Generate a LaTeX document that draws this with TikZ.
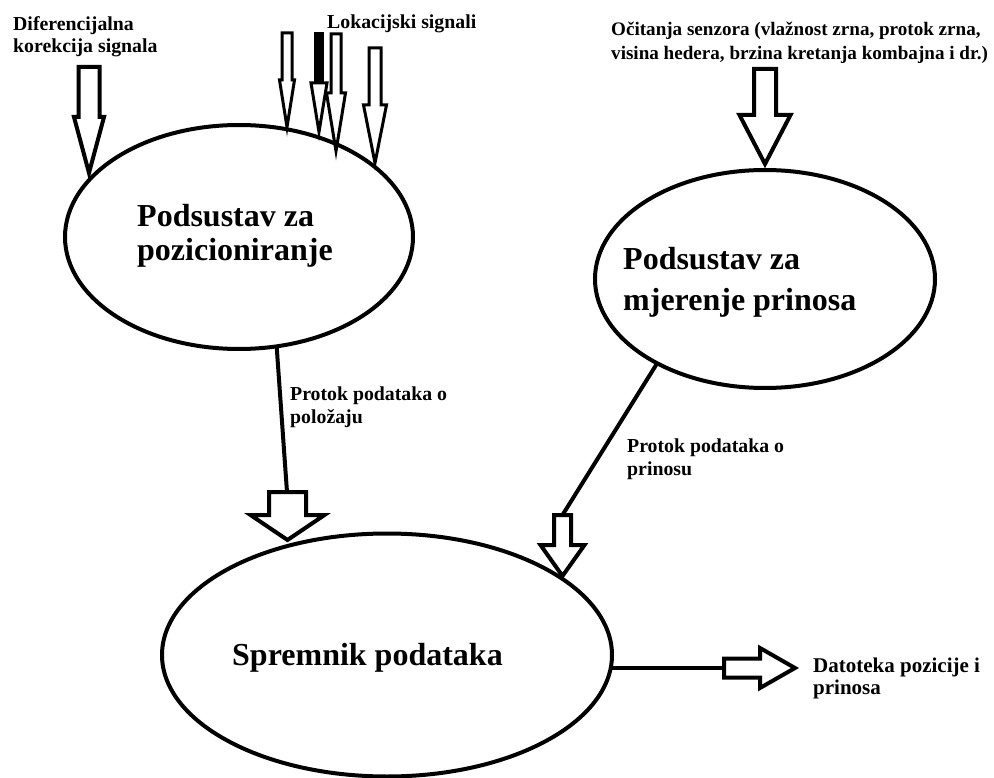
\documentclass[tikz,border=0pt]{standalone}
\usepackage{fontspec}
\setmainfont{Liberation Serif}
\usetikzlibrary{shapes.geometric}
\newcommand\twol[3]{\vtop{\baselineskip=#3pt\lineskiplimit=-50pt\hbox{#1}\hbox{#2}}}
% vertical block arrow: name, cx, ytop, yhead, ytip, shaft half width, head half width, style
\newcommand\vblk[8]{%
  \draw[#8] (#2-#6,#3) -- (#2+#6,#3) -- (#2+#6,#4) -- (#2+#7,#4) -- (#2,#5)
    -- (#2-#7,#4) -- (#2-#6,#4) -- cycle;
  \coordinate (#1t) at (#2,#3); \coordinate (#1h) at (#2,#5);}
\begin{document}
\begin{tikzpicture}[x=1pt,y=-1pt,
  blk/.style={draw=black,fill=white,line width=4pt,line join=miter,miter limit=20},
  thinblk/.style={draw=black,fill=white,line width=3pt,line join=miter,miter limit=20},
  oval/.style={draw=black,ellipse,line width=4pt,inner sep=0pt,outer sep=0pt},
  conn/.style={draw=black,line width=4pt},
  small/.style={inner sep=0pt,font=\fontsize{19.8}{22}\selectfont\bfseries},
  big/.style={inner sep=0pt,font=\fontsize{32}{35}\selectfont\bfseries}]
\fill[white] (0,0) rectangle (994,778);
\useasboundingbox (0,0) rectangle (994,778);

% ellipses
\node[oval,minimum width=348pt,minimum height=224pt] (e1) at (239,237) {};
\node[oval,minimum width=340pt,minimum height=218pt] (e2) at (765,279) {};
\node[oval,minimum width=450pt,minimum height=243pt] (e3) at (387,655) {};

% ellipse texts
\node[big,anchor=base west] (t1) at (137,227) {\twol{Podsustav za}{pozicioniranje}{34}};
\node[big,anchor=base west] (t2) at (623,270) {\twol{Podsustav za}{mjerenje prinosa}{40}};
\node[big,anchor=base west] (t3) at (232,665) {Spremnik podataka};

% labels
\node[small,anchor=base west] (tdif) at (13,31) {\twol{Diferencijalna}{korekcija signala}{22}};
\node[small,anchor=base west] (tlok) at (327,29) {Lokacijski signali};
\node[small,anchor=base west,font=\fontsize{19.1}{22}\selectfont\bfseries] (tsen) at (611,36) {\twol{Očitanja senzora (vlažnost zrna, protok zrna,}{visina hedera, brzina kretanja kombajna i dr.)}{24}};
\node[small,anchor=base west] (tpp) at (290,400) {\twol{Protok podataka o}{položaju}{23}};
\node[small,anchor=base west] (tpy) at (627,452) {\twol{Protok podataka o}{prinosu}{23}};
\node[small,anchor=base west,font=\fontsize{21}{22}\selectfont\bfseries] (tdat) at (813,672) {\twol{Datoteka pozicije i}{prinosa}{22}};

% input block arrows
\vblk{ad}{89}{67}{117}{173}{10.5}{15}{blk}
\vblk{al1}{287}{33}{80}{127}{5}{7.5}{thinblk}
% filled one
\fill[black] (314,32) rectangle (324,84);
\draw[thinblk] (311,83) -- (327,83) -- (319,132) -- cycle;
\coordinate (al2h) at (319,132);
\vblk{al3}{336}{34}{93}{151}{5}{9.5}{thinblk}
\vblk{al4}{375}{48}{105}{163}{6}{11.5}{thinblk}
\vblk{as}{765}{69}{115}{164}{11}{25.5}{blk}

% flow lines and their block arrows
\draw[conn] (e1.-71) -- (287,492) coordinate (pend);
\vblk{ap}{287.5}{492}{515}{540}{18.5}{37}{blk}
\draw[conn] (e2.-142) -- (562.5,515) coordinate (yend);
\vblk{ay}{562.5}{515}{545}{576}{8.5}{22}{blk}

% output
\coordinate (oend) at (724,668);
\draw[conn] (oend -| e3.-3.3) -- (oend);
\draw[blk] (724,658.5) -- (760,658.5) -- (760,648) -- (795,668) -- (760,688) -- (760,677.5) -- (724,677.5) -- cycle;
\end{tikzpicture}
\end{document}
